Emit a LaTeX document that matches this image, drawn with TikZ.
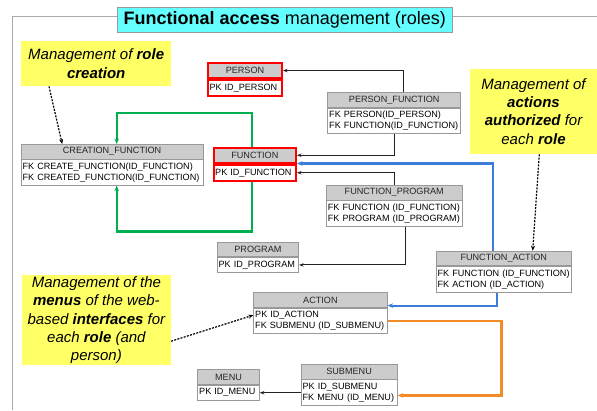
\documentclass[tikz,border=0pt]{standalone}
\usepackage{fontspec}
\setmainfont{Liberation Sans}
\usetikzlibrary{arrows.meta}
\definecolor{hdrgray}{HTML}{CCCCCC}
\definecolor{boxgray}{HTML}{999999}
\definecolor{framegray}{HTML}{AAAAAA}
\definecolor{noteyellow}{HTML}{FFFF66}
\definecolor{titlecyan}{HTML}{66FFFF}
\definecolor{relgreen}{HTML}{00B050}
\definecolor{relblue}{HTML}{3C7DD9}
\definecolor{relorange}{HTML}{F28C28}
\definecolor{conngray}{HTML}{222222}
\tikzset{
  tblfont/.style={font=\fontsize{9.1}{11}\selectfont},
  hdr/.style={draw=boxgray, fill=hdrgray, line width=0.8pt, inner sep=0pt, anchor=north west, tblfont, text=black!85},
  bdy/.style={draw=boxgray, fill=white, line width=0.8pt, inner xsep=1.5pt, inner ysep=0pt, anchor=north west, align=left, tblfont},
  keytbl/.style={draw=red, line width=2pt},
  note/.style={fill=noteyellow, inner sep=0pt, anchor=north west, align=center, font=\fontsize{15}{18.2}\selectfont\itshape},
  conn/.style={draw=conngray, line width=1pt, -{Stealth[length=4.5pt,width=3.5pt]}},
  grn/.style={draw=relgreen, line width=2.2pt, -{Stealth[length=5.5pt,width=4.5pt]}},
  blu/.style={draw=relblue, line width=2.2pt, -{Stealth[length=5.5pt,width=4.5pt]}},
  org/.style={draw=relorange, line width=2.2pt, -{Stealth[length=5.5pt,width=4.5pt]}},
  hint/.style={draw=black, line width=1.2pt, dash pattern=on 2pt off 1.3pt, -{Stealth[length=5pt,width=4pt]}}
}
% [style] name x y width bodyheight title body
\newcommand\mytable[8][]{%
  \node[hdr, #1, minimum width=#5pt, minimum height=14.5pt] (#2) at (#3,#4) {#7};
  \node[bdy, #1, text width=#5pt-3pt, minimum height=#6pt] (#2b) at (#2.south west) {#8};
}
\newcommand\tline[1]{\mbox{#1}\hfill}
\begin{document}
\begin{tikzpicture}[x=1pt,y=-1pt]
\useasboundingbox (0,0) rectangle (597,410);
% frame
\draw[framegray, line width=1pt] (12.7,410) -- (12.7,16.7) -- (597,16.7);
% title
\node[draw=boxgray, fill=titlecyan, line width=0.6pt, anchor=north west, minimum width=334.4pt, minimum height=25pt, inner sep=0pt, font=\fontsize{18}{20}\selectfont] (t) at (117.3,7.3) {\textbf{Functional access} management (roles)};
% notes
\node[note, minimum width=150pt, minimum height=45pt] (y1) at (21,41) {Management of \textbf{role}\\\textbf{creation}};
\node[note, minimum width=128pt, minimum height=85.7pt] (y2) at (469.3,68.3) {Management of\\\textbf{actions}\\\textbf{authorized} for\\each \textbf{role}};
\node[note, minimum width=149pt, minimum height=90pt] (y3) at (21.7,275) {Management of the\\\textbf{menus} of the web-\\based \textbf{interfaces} for\\each \textbf{role} (and\\person)};
% tables
\mytable[keytbl]{person}{207}{62.3}{74}{16}{PERSON}{\tline{PK ID\_PERSON}}
\mytable{pf}{327.3}{92.3}{133}{25.5}{PERSON\_FUNCTION}{\tline{FK PERSON(ID\_PERSON)}\\\tline{FK FUNCTION(ID\_FUNCTION)}}
\mytable{cf}{20.7}{144}{182}{25.5}{CREATION\_FUNCTION}{\tline{FK CREATE\_FUNCTION(ID\_FUNCTION)}\\\tline{FK CREATED\_FUNCTION(ID\_FUNCTION)}}
\mytable[keytbl]{func}{212.7}{147}{82.3}{16.5}{FUNCTION}{\tline{PK ID\_FUNCTION}}
\mytable{fp}{326}{185}{135.7}{25.5}{FUNCTION\_PROGRAM}{\tline{FK FUNCTION (ID\_FUNCTION)}\\\tline{FK PROGRAM (ID\_PROGRAM)}}
\mytable{prog}{216.7}{241.5}{81.6}{15.5}{PROGRAM}{\tline{PK ID\_PROGRAM}}
\mytable{fa}{435.7}{250.7}{135.3}{26}{FUNCTION\_ACTION}{\tline{FK FUNCTION (ID\_FUNCTION)}\\\tline{FK ACTION (ID\_ACTION)}}
\mytable{act}{253.3}{292.3}{133.4}{25.5}{ACTION}{\tline{PK ID\_ACTION}\\\tline{FK SUBMENU (ID\_SUBMENU)}}
\mytable{menu}{197.3}{369.3}{61.7}{15.5}{MENU}{\tline{PK ID\_MENU}}
\mytable{sub}{300.7}{364}{96}{25.5}{SUBMENU}{\tline{PK ID\_SUBMENU}\\\tline{FK MENU (ID\_MENU)}}
% black connectors
\draw[conn] ([xshift=76pt]pf.north west) |- (person.east);
\draw[conn] ([xshift=66.7pt]pfb.south west) |- (func.east);
\draw[conn] ([xshift=68pt]fp.north west) |- (funcb.east);
\draw[conn] ([xshift=79pt]fpb.south west) |- (progb.east);
\draw[conn] (subb.west |- menub.east) -- (menub.east);
% coloured relations
\draw[grn] ([xshift=39pt]func.north west) -- ++(0,-34) -| ([xshift=96pt]cf.north west);
\draw[grn] ([xshift=39pt]funcb.south west) -- ++(0,49.5) -| ([xshift=96pt]cfb.south west);
\draw[blu] ([xshift=57.6pt]fa.north west) |- (func.south east);
\draw[blu] ([xshift=61.6pt]fab.south west) |- ([yshift=2pt]act.south east);
\draw[org] (actb.east) -- ++(114,0) |- ([yshift=-3pt]subb.east);
% hints
\draw[hint] ([xshift=28pt]y1.south west) -- ([xshift=41.5pt]cf.north west);
\draw[hint] ([xshift=70pt]y2.south west) -- ([xshift=97pt]fa.north west);
\draw[hint] ([yshift=-21pt]y3.east) -- ([yshift=5.6pt]actb.west);
\end{tikzpicture}
\end{document}
